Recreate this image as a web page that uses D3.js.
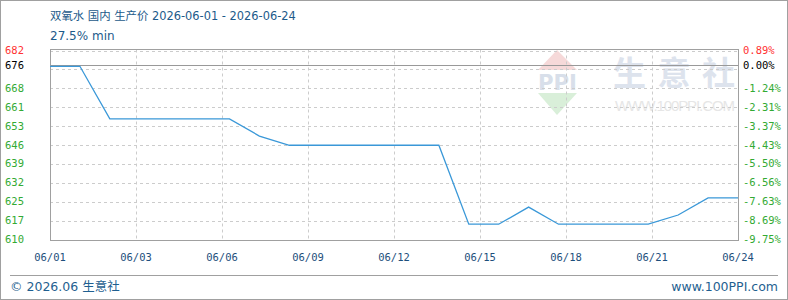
<!DOCTYPE html>
<html>
<head>
<meta charset="utf-8">
<script src="https://cdn.jsdelivr.net/npm/d3@7"></script>
<style>
  body { margin: 0; background: #fff; }
  svg { display: block; }
</style>
</head>
<body>
<div id="chart"></div>
<script>
var dates = ["2026-06-01","2026-06-02","2026-06-03","2026-06-04","2026-06-05","2026-06-06",
  "2026-06-07","2026-06-08","2026-06-09","2026-06-10","2026-06-11","2026-06-12",
  "2026-06-13","2026-06-14","2026-06-15","2026-06-16","2026-06-17","2026-06-18",
  "2026-06-19","2026-06-20","2026-06-21","2026-06-22","2026-06-23","2026-06-24"];
var prices = [676, 676, 656, 656, 656, 656,
  656, 649.5, 646, 646, 646, 646,
  646, 646, 616, 616, 622.5, 616,
  616, 616, 616, 619.5, 626, 626];

var xTickLabels = ["06/01","06/03","06/06","06/09","06/12","06/15","06/18","06/21","06/24"];
var leftTickLabels = ["610","617","625","632","639","646","653","661","668","675","682"];
var rightTickLabels = ["-9.75%","-8.69%","-7.63%","-6.56%","-5.50%","-4.43%","-3.37%","-2.31%","-1.24%","-0.18%","0.89%"];
var baseValue = 676;
var yMin = 610, yMax = 682;

var width = 788, height = 300;
var plotLeft = 50, plotRight = 738, plotTop = 50.5, plotBottom = 240;

var parse = d3.timeParse("%Y-%m-%d");
var data = dates.map(function(d, i) { return {date: parse(d), value: prices[i]}; });

var svg = d3.select("#chart").append("svg")
  .attr("width", width)
  .attr("height", height);

// outer frame
svg.append("rect")
  .attr("x", 0.5).attr("y", 0.5)
  .attr("width", width - 1).attr("height", height - 1)
  .attr("fill", "none").attr("stroke", "#a0a0a0");

var x = d3.scaleTime()
  .domain([data[0].date, data[data.length - 1].date])
  .range([plotLeft, plotRight]);

var y = d3.scaleLinear()
  .domain([yMin, yMax])
  .range([plotBottom, plotTop]);

var yTicks = d3.range(leftTickLabels.length).map(function(i) {
  return yMin + i * (yMax - yMin) / (leftTickLabels.length - 1);
});
var xTicks = d3.range(xTickLabels.length).map(function(i) {
  return x.invert(plotLeft + i * (plotRight - plotLeft) / (xTickLabels.length - 1));
});

// watermark
var wm = svg.append("g");
wm.append("path")
  .attr("d", "M557,50 L538,70 L577,70 Z")
  .attr("fill", "#f6d9d9");
wm.append("path")
  .attr("d", "M538,93 L577,93 L557,115 Z")
  .attr("fill", "#d9efd9");
wm.append("text")
  .attr("x", 538).attr("y", 90)
  .attr("textLength", 39)
  .attr("lengthAdjust", "spacingAndGlyphs")
  .attr("font-family", "DejaVu Sans")
  .attr("font-weight", "bold")
  .attr("font-size", 21)
  .attr("fill", "#d8dfea")
  .text("PPI");
wm.append("text")
  .attr("x", 613).attr("y", 85)
  .attr("textLength", 122)
  .attr("font-family", "Noto Sans CJK SC")
  .attr("font-weight", "bold")
  .attr("font-size", 33)
  .attr("fill", "#dde3ed")
  .text("生意社");
wm.append("text")
  .attr("x", 615).attr("y", 111)
  .attr("textLength", 120)
  .attr("font-family", "Liberation Sans")
  .attr("font-size", 15)
  .attr("fill", "#e6e6e6")
  .text("WWW.100PPI.COM");

// grid
svg.append("g").selectAll("line")
  .data(yTicks.slice(1))
  .enter().append("line")
  .attr("x1", plotLeft).attr("x2", plotRight)
  .attr("y1", function(d) { return Math.round(y(d)) + 0.5; })
  .attr("y2", function(d) { return Math.round(y(d)) + 0.5; })
  .attr("stroke", "#cccccc")
  .attr("stroke-dasharray", "3,3");

svg.append("g").selectAll("line")
  .data(xTicks.slice(1, -1))
  .enter().append("line")
  .attr("x1", function(d) { return Math.round(x(d)) + 0.5; })
  .attr("x2", function(d) { return Math.round(x(d)) + 0.5; })
  .attr("y1", plotTop - 1).attr("y2", plotBottom)
  .attr("stroke", "#cccccc")
  .attr("stroke-dasharray", "3,3");

// baseline
svg.append("line")
  .attr("x1", plotLeft).attr("x2", plotRight)
  .attr("y1", Math.round(y(baseValue)) - 0.5)
  .attr("y2", Math.round(y(baseValue)) - 0.5)
  .attr("stroke", "#999999");

// plot frame
svg.append("rect")
  .attr("x", plotLeft + 0.5).attr("y", 49.5)
  .attr("width", plotRight - plotLeft).attr("height", plotBottom - 49)
  .attr("fill", "none").attr("stroke", "#a0a0a0");

// price line
var line = d3.line()
  .x(function(d) { return x(d.date); })
  .y(function(d) { return y(d.value); });

svg.append("path")
  .datum(data)
  .attr("d", line)
  .attr("fill", "none")
  .attr("stroke", "#3a98d8")
  .attr("stroke-width", 1.3);

// left / right axis labels
var axisFont = "DejaVu Sans Mono";
var baseY = y(baseValue);
function labelColor(i) {
  return i === leftTickLabels.length - 1 ? "#ff3333" : "#33aa33";
}
var shown = yTicks.map(function(d, i) { return {v: d, i: i}; })
  .filter(function(d) { return Math.abs(y(d.v) - baseY) > 8; });

svg.append("g").selectAll("text")
  .data(shown)
  .enter().append("text")
  .attr("x", 5)
  .attr("y", function(d) { return y(d.v) - 0.5; })
  .attr("dy", "0.36em")
  .attr("font-family", axisFont)
  .attr("font-size", 10.5)
  .attr("fill", function(d) { return labelColor(d.i); })
  .text(function(d) { return leftTickLabels[d.i]; });

svg.append("g").selectAll("text")
  .data(shown)
  .enter().append("text")
  .attr("x", 743)
  .attr("y", function(d) { return y(d.v) - 0.5; })
  .attr("dy", "0.36em")
  .attr("font-family", axisFont)
  .attr("font-size", 10.5)
  .attr("fill", function(d) { return labelColor(d.i); })
  .text(function(d) { return rightTickLabels[d.i]; });

svg.append("text")
  .attr("x", 5).attr("y", baseY - 1)
  .attr("dy", "0.36em")
  .attr("font-family", axisFont).attr("font-size", 10.5)
  .attr("fill", "#000")
  .text(String(baseValue));
svg.append("text")
  .attr("x", 743).attr("y", baseY - 1)
  .attr("dy", "0.36em")
  .attr("font-family", axisFont).attr("font-size", 10.5)
  .attr("fill", "#000")
  .text("0.00%");

// x axis labels
svg.append("g").selectAll("text")
  .data(xTicks)
  .enter().append("text")
  .attr("x", function(d) { return x(d); })
  .attr("y", 257)
  .attr("dy", "0.36em")
  .attr("text-anchor", "middle")
  .attr("font-family", axisFont)
  .attr("font-size", 10.5)
  .attr("fill", "#1d4f7c")
  .text(function(d, i) { return xTickLabels[i]; });

// title
var titleColor = "#1c5a8a";
svg.append("text")
  .attr("x", 50).attr("y", 20)
  .attr("font-family", "DejaVu Sans, Noto Sans CJK SC")
  .attr("font-size", 11.4)
  .attr("fill", titleColor)
  .text("双氧水 国内 生产价 2026-06-01 - 2026-06-24");
svg.append("text")
  .attr("x", 50).attr("y", 40)
  .attr("font-family", "DejaVu Sans, Noto Sans CJK SC")
  .attr("font-size", 12)
  .attr("fill", titleColor)
  .text("27.5% min");

// footer
svg.append("line")
  .attr("x1", 10).attr("x2", 778)
  .attr("y1", 275.5).attr("y2", 275.5)
  .attr("stroke", "#a0a0a0");
svg.append("text")
  .attr("x", 10).attr("y", 291)
  .attr("font-family", "DejaVu Sans, Noto Sans CJK SC")
  .attr("font-size", 12.5)
  .attr("fill", "#1f5f90")
  .text("© 2026.06 生意社");
svg.append("text")
  .attr("x", 778).attr("y", 291)
  .attr("text-anchor", "end")
  .attr("font-family", "DejaVu Sans")
  .attr("font-size", 12.5)
  .attr("fill", "#1f5f90")
  .text("www.100PPI.com");
</script>
</body>
</html>
